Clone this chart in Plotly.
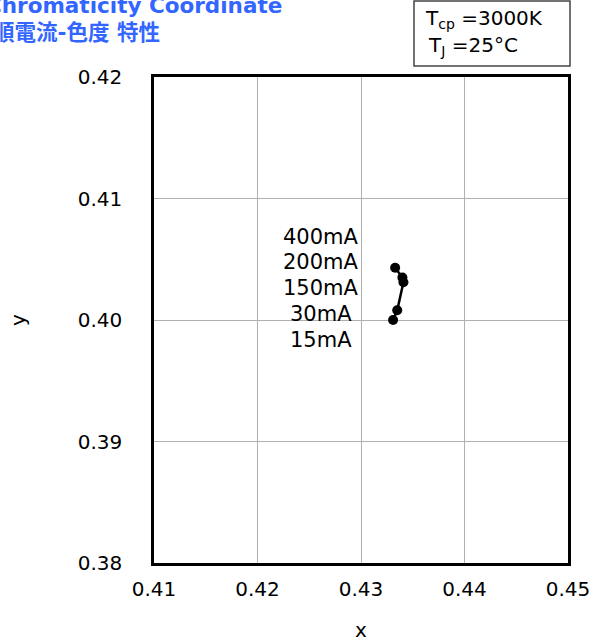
import plotly.graph_objects as go

# data
currents = ["15mA", "30mA", "150mA", "200mA", "400mA"]
cx = [0.4331, 0.4335, 0.4341, 0.4340, 0.4333]
cy = [0.4000, 0.4008, 0.4031, 0.4035, 0.4043]
x_ticks = [0.41, 0.42, 0.43, 0.44, 0.45]
y_ticks = [0.38, 0.39, 0.40, 0.41, 0.42]
label_x = 0.4261
label_y = [0.39835, 0.40049, 0.40263, 0.40477, 0.40683]

FONT = "DejaVu Sans, Verdana, sans-serif"
L, R, T, B = 154, 26, 77, 81
PW, PH = 594 - L - R, 644 - T - B


def px(xp):
    return (xp - L) / PW


def py(yp):
    return 1 - (yp - T) / PH


fig = go.Figure()
fig.add_trace(go.Scatter(
    x=cx, y=cy, mode="lines+markers",
    line=dict(color="black", width=2.5),
    marker=dict(color="black", size=10),
    showlegend=False, cliponaxis=False,
))

for lab, ly in zip(currents, label_y):
    fig.add_annotation(x=label_x, y=ly, text=lab, showarrow=False,
                       xanchor="center", yanchor="middle",
                       font=dict(family=FONT, size=21, color="black"))

# title
TFONT = dict(family="DejaVu Sans, Noto Sans CJK JP", size=21.5, color="#3366ff", weight="bold")
fig.add_annotation(xref="paper", yref="paper", x=px(-16), y=py(5),
                   text="Chromaticity Coordinate", showarrow=False,
                   xanchor="left", yanchor="middle", font=TFONT)
fig.add_annotation(xref="paper", yref="paper", x=px(-9), y=py(33),
                   text="順電流-色度 特性", showarrow=False,
                   xanchor="left", yanchor="middle", font=TFONT)

# condition box
fig.add_shape(type="rect", xref="paper", yref="paper",
              x0=px(414), x1=px(570), y0=py(66), y1=py(1),
              line=dict(color="#444444", width=1.5), fillcolor="white")
fig.add_annotation(xref="paper", yref="paper", x=px(423), y=py(19),
                   text="T<sub>cp</sub> =3000K", showarrow=False, xanchor="left", yanchor="middle",
                   font=dict(family=FONT, size=20, color="black"))
fig.add_annotation(xref="paper", yref="paper", x=px(426), y=py(46),
                   text="T<sub>J</sub> =25°C", showarrow=False, xanchor="left", yanchor="middle",
                   font=dict(family=FONT, size=20, color="black"))

# axis titles
fig.add_annotation(xref="paper", yref="paper", x=px(361), y=py(630), text="x", showarrow=False,
                   xanchor="center", yanchor="middle", font=dict(family=FONT, size=20, color="black"))
fig.add_annotation(xref="paper", yref="paper", x=px(18), y=py(320), text="y", showarrow=False,
                   textangle=-90, xanchor="center", yanchor="middle",
                   font=dict(family=FONT, size=20, color="black"))

fig.update_layout(
    width=594, height=644,
    margin=dict(l=L, r=R, t=T, b=B, autoexpand=False),
    paper_bgcolor="white", plot_bgcolor="white",
    font=dict(family=FONT, size=20, color="black"),
    xaxis=dict(range=[0.41, 0.45], tickvals=x_ticks, ticktext=[f"{v:.2f}" for v in x_ticks],
               showgrid=True, gridcolor="#b0b0b0", gridwidth=1, automargin=False,
               showline=True, linecolor="black", linewidth=2.5, mirror=True,
               ticks="", ticklabelstandoff=6, zeroline=False),
    yaxis=dict(range=[0.38, 0.42], tickvals=y_ticks, ticktext=[f"{v:.2f}" for v in y_ticks],
               showgrid=True, gridcolor="#b0b0b0", gridwidth=1, automargin=False,
               showline=True, linecolor="black", linewidth=2.5, mirror=True,
               ticks="", ticklabelstandoff=25, zeroline=False),
)

fig.write_html("out.html", config={"displayModeBar": False},
               post_script="document.body.style.margin='0';document.body.style.overflow='hidden';")
